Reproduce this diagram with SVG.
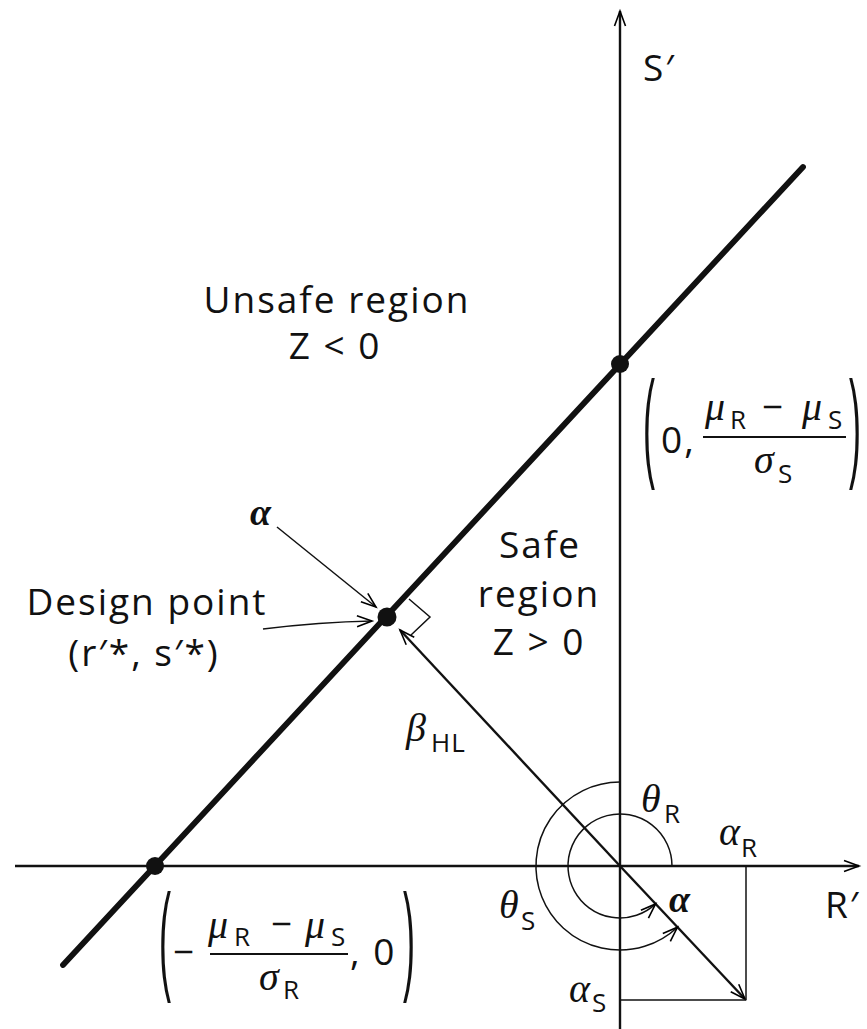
<svg xmlns="http://www.w3.org/2000/svg" width="867" height="1029" viewBox="0 0 867 1029">
<defs>
<marker id="arr" markerUnits="userSpaceOnUse" markerWidth="20" markerHeight="14" viewBox="0 0 20 14" refX="17" refY="7" orient="auto">
<path d="M2,1.5 L17,7 L2,12.5" fill="none" stroke="#000" stroke-width="1.6"/>
</marker>
</defs>
<style>
.lbl{font-family:"Open Sans","DejaVu Sans",sans-serif;font-size:37px;letter-spacing:2px;fill:#111}
.sub{font-family:"Open Sans","DejaVu Sans",sans-serif;font-size:26px;letter-spacing:1px;fill:#111}
.gr{font-family:"Liberation Serif",serif;font-style:italic;font-size:40px;fill:#111}
.grb{font-family:"Liberation Serif",serif;font-style:italic;font-weight:bold;font-size:38px;fill:#111}
.par{font-family:"Liberation Sans",sans-serif;font-size:120px;fill:#111}
.thin{fill:none;stroke:#111;stroke-width:1.5}
.med{fill:none;stroke:#111;stroke-width:2.4}
</style>
<rect width="867" height="1029" fill="#fff"/>
<g id="connectors">
<line class="med" x1="15" y1="866" x2="859" y2="866" stroke-width="3" marker-end="url(#arr)"/>
<line class="med" x1="620" y1="1029" x2="620" y2="11" marker-end="url(#arr)"/>
<line x1="63" y1="965" x2="803" y2="167" stroke="#111" stroke-width="5.8" stroke-linecap="round"/>
<line class="med" x1="620" y1="866" x2="400" y2="630" marker-end="url(#arr)"/>
<line class="med" x1="620" y1="866" x2="745" y2="999" marker-end="url(#arr)"/>
<line class="thin" x1="746" y1="866" x2="746" y2="1000"/>
<line class="thin" x1="620" y1="1000" x2="746" y2="1000"/>
<line class="thin" x1="277" y1="527" x2="376" y2="607" marker-end="url(#arr)"/>
<path class="thin" d="M263,629 Q320,622 372,621" marker-end="url(#arr)"/>
<path class="thin" d="M672,866 A52,52 0 1 0 655.6,903.9" marker-end="url(#arr)"/>
<path class="thin" d="M620,782 A84,84 0 1 0 677.5,927.2" marker-end="url(#arr)"/>
<polyline class="thin" points="409,599 430,617 411,635"/>
</g>
<g id="design-point">
<circle cx="387" cy="617" r="9.5" fill="#111"/>
<text class="lbl" x="147" y="615" text-anchor="middle">Design point</text>
<text class="lbl" x="144" y="666" text-anchor="middle">(r′*, s′*)</text>
<text class="grb" x="250" y="525">α</text>
</g>
<g id="s-intercept">
<circle cx="620" cy="364" r="9" fill="#111"/>
<text class="par" transform="translate(643,465) scale(0.3,1)">(</text>
<text class="lbl" x="661" y="453">0,</text>
<text class="gr" x="705" y="420">μ</text><text class="sub" x="730" y="429">R</text>
<text class="lbl" x="762" y="420">−</text>
<text class="gr" x="802" y="420">μ</text><text class="sub" x="828" y="429">S</text>
<line x1="703" y1="437" x2="846" y2="437" stroke="#111" stroke-width="2"/>
<text class="gr" x="754" y="473">σ</text><text class="sub" x="778" y="483">S</text>
<text class="par" transform="translate(849,465) scale(0.3,1)">)</text>
</g>
<g id="r-intercept">
<circle cx="155" cy="866" r="9" fill="#111"/>
<text class="par" transform="translate(159,978) scale(0.3,1)">(</text>
<text class="lbl" x="173" y="965">−</text>
<text class="gr" x="208" y="938">μ</text><text class="sub" x="234" y="946">R</text>
<text class="lbl" x="271" y="937">−</text>
<text class="gr" x="305" y="938">μ</text><text class="sub" x="331" y="946">S</text>
<line x1="210" y1="954" x2="348" y2="954" stroke="#111" stroke-width="2"/>
<text class="gr" x="259" y="990">σ</text><text class="sub" x="283" y="999">R</text>
<text class="lbl" x="350" y="965">, 0</text>
<text class="par" transform="translate(403,978) scale(0.3,1)">)</text>
</g>
<g id="regions">
<text class="lbl" x="337" y="313" text-anchor="middle">Unsafe region</text>
<text class="lbl" x="335" y="359" text-anchor="middle">Z &lt; 0</text>
<text class="lbl" x="540" y="558" text-anchor="middle">Safe</text>
<text class="lbl" x="539" y="607" text-anchor="middle">region</text>
<text class="lbl" x="539" y="655" text-anchor="middle">Z &gt; 0</text>
</g>
<g id="axes-labels">
<text class="lbl" x="643" y="81">S′</text>
<text class="lbl" x="825" y="918">R′</text>
</g>
<g id="angles">
<text class="gr" x="406" y="741">β</text><text class="sub" x="431" y="752">HL</text>
<text class="gr" x="641" y="812">θ</text><text class="sub" x="664" y="823">R</text>
<text class="gr" x="499" y="918">θ</text><text class="sub" x="521" y="930">S</text>
<text class="gr" x="719" y="845">α</text><text class="sub" x="741" y="857">R</text>
<text class="gr" x="569" y="1002">α</text><text class="sub" x="592" y="1012">S</text>
<text class="grb" x="669" y="912">α</text>
</g>
</svg>
